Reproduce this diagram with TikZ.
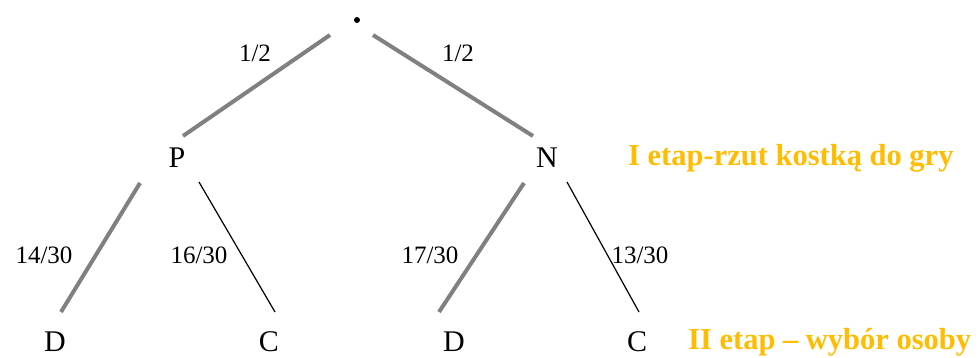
\documentclass[tikz,border=0pt]{standalone}
\usepackage{fontspec}
\setmainfont{Liberation Serif}
\definecolor{stageorange}{RGB}{255,188,0}
\definecolor{branchgray}{RGB}{128,128,128}
\begin{document}
\begin{tikzpicture}[x=1pt,y=-1pt,
  letter/.style={inner sep=0pt,font=\fontsize{30}{36}\selectfont},
  prob/.style={inner sep=0pt,font=\fontsize{25}{30}\selectfont},
  stage/.style={inner sep=0pt,anchor=west,text=stageorange,font=\fontsize{30.5}{36}\selectfont\bfseries},
  thickbranch/.style={draw=branchgray,line width=4pt},
  thinbranch/.style={draw=black,line width=1.2pt}]
\useasboundingbox (0,0) rectangle (978,357);
% nodes
\node[circle,fill=black,inner sep=0pt,minimum size=6pt] (root) at (357,20) {};
\node[letter] (P) at (177,158) {P};
\node[letter] (N) at (547,158) {N};
\node[letter] (D1) at (55,342) {D};
\node[letter] (C1) at (269,342) {C};
\node[letter] (D2) at (454,342) {D};
\node[letter] (C2) at (637,342) {C};
\node[stage] (s1) at (628,158) {I etap-rzut kostką do gry};
\node[stage] (s2) at (688,342) {II etap -- wybór osoby};
% connector end points
\coordinate (rL) at (330,35);  \coordinate (pT) at (183,136);
\coordinate (rR) at (373,35);  \coordinate (nT) at (533,136);
\coordinate (pL) at (140,183); \coordinate (d1T) at (61,312);
\coordinate (pR) at (199,182); \coordinate (c1T) at (275,312);
\coordinate (nL) at (524,183); \coordinate (d2T) at (439,312);
\coordinate (nR) at (567,182); \coordinate (c2T) at (639,312);
% connectors
\draw[thickbranch] (rL) -- (pT);
\draw[thickbranch] (rR) -- (nT);
\draw[thickbranch] (pL) -- (d1T);
\draw[thinbranch] (pR) -- (c1T);
\draw[thickbranch] (nL) -- (d2T);
\draw[thinbranch] (nR) -- (c2T);
% labels
\node[prob] (l1) at (255,53) {1/2};
\node[prob] (l2) at (458,53) {1/2};
\node[prob] (l3) at (44,255) {14/30};
\node[prob] (l4) at (199,255) {16/30};
\node[prob] (l5) at (430,255) {17/30};
\node[prob] (l6) at (640,255) {13/30};
\end{tikzpicture}
\end{document}
